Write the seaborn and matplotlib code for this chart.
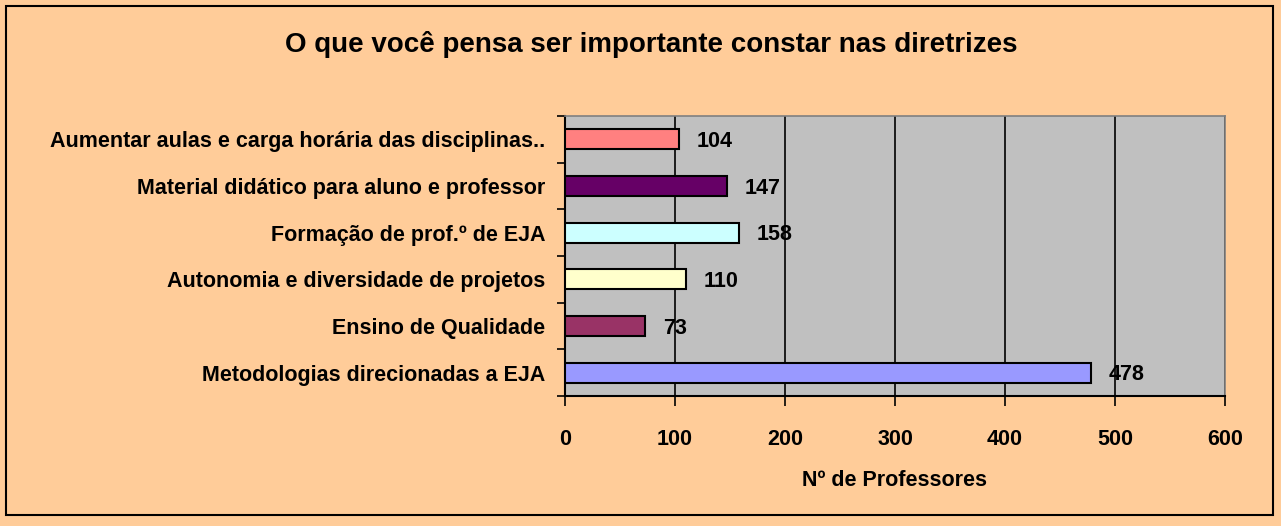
import matplotlib
matplotlib.use("Agg")
import matplotlib.pyplot as plt
import seaborn as sns
import pandas as pd
import numpy as np

categories = [
    "Aumentar aulas e carga horária das disciplinas..",
    "Material didático para aluno e professor",
    "Formação de prof.º de EJA",
    "Autonomia e diversidade de projetos",
    "Ensino de Qualidade",
    "Metodologias direcionadas a EJA",
]
values = [104, 147, 158, 110, 73, 478]
colors = ["#FF8080", "#660066", "#CCFFFF", "#FFFFCC", "#993366", "#9999FF"]
x_ticks = [0, 100, 200, 300, 400, 500, 600]
title = "O que você pensa ser importante constar nas diretrizes"
x_label = "Nº de Professores"

sns.set_theme(style="white")
plt.rcParams["font.family"] = ["Liberation Sans", "DejaVu Sans"]
plt.rcParams["text.color"] = "black"
plt.rcParams["xtick.color"] = "black"
plt.rcParams["ytick.color"] = "black"
plt.rcParams["axes.labelcolor"] = "black"

df = pd.DataFrame({"cat": categories, "val": values})

fig = plt.figure(figsize=(12.81, 5.26), dpi=100)
fig.patch.set_facecolor("#FFCC99")
ax = fig.add_axes([565/1281, 1-396/526, (1225-565)/1281, (396-116)/526])
ax.set_facecolor("#C0C0C0")

sns.barplot(data=df, y="cat", x="val", hue="cat", palette=colors, orient="h",
            order=categories, hue_order=categories, legend=False, saturation=1,
            width=0.43, edgecolor="black", linewidth=1.5, ax=ax, zorder=3)

for i, v in enumerate(values):
    ax.text(v + 16, i + 0.05, str(v), va="center", ha="left", fontsize=15.5,
            fontweight="bold", color="black", zorder=4)

ax.set_xlim(0, 600)
ax.set_ylim(5.5, -0.5)
ax.set_xticks(x_ticks)
ax.set_xticklabels([str(t) for t in x_ticks], fontsize=15.5, fontweight="bold")
ax.grid(axis="x", color="black", linewidth=1.2, zorder=1)
ax.set_axisbelow(True)
ax.tick_params(axis="x", direction="out", length=7, width=1.2, color="black",
               pad=17, bottom=True)
ax.set_yticks(range(len(categories)))
ax.set_yticklabels(categories, fontsize=15.5, fontweight="bold")
ax.set_yticks(np.arange(-0.5, 6, 1), minor=True)
ax.tick_params(axis="y", which="major", length=0, pad=14)
ax.tick_params(axis="y", which="minor", direction="out", length=6, width=1.2,
               color="black", left=True)
ax.set_ylabel("")
ax.set_xlabel(x_label, fontsize=15.5, fontweight="bold", labelpad=14)

for s in ["top", "right"]:
    ax.spines[s].set_color("#808080")
    ax.spines[s].set_linewidth(1.2)
for s in ["left", "bottom"]:
    ax.spines[s].set_color("black")
    ax.spines[s].set_linewidth(1.5)

fig.text(651/1281, 1-45/526, title, ha="center", va="center", fontsize=20,
         fontweight="bold")

border = plt.Rectangle((6/1281, 1-515/526), (1273-6)/1281, (515-6)/526,
                       transform=fig.transFigure, fill=False, edgecolor="black",
                       linewidth=1.5)
fig.patches.append(border)

fig.savefig("out.png", dpi=100, facecolor=fig.get_facecolor())
